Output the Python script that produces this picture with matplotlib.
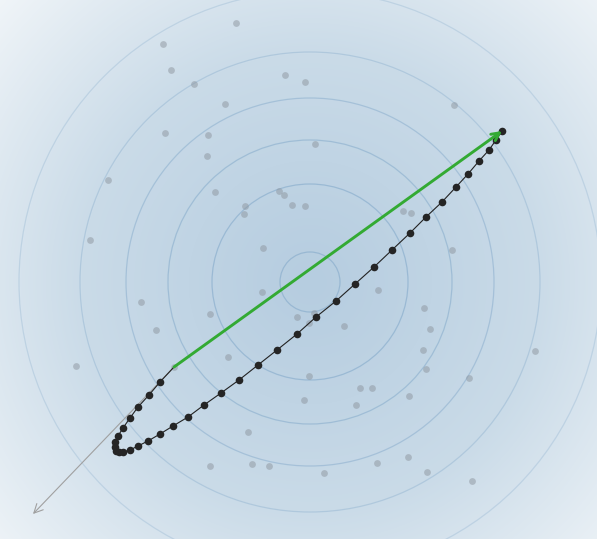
import numpy as np
import matplotlib
matplotlib.use("Agg")
import matplotlib.pyplot as plt
from matplotlib.patches import Circle
from matplotlib.colors import LinearSegmentedColormap

# ---- data (pixel-like units, y grows downward) ----
center = (310, 282)
contour_radii = [30, 98, 142, 184, 230, 291]

scatter_x = [236, 163, 285, 171, 194, 225, 165, 208, 207, 108, 215, 279, 284, 292, 245, 244,
             90, 263, 305, 454, 315, 305, 403, 411, 452, 262, 141, 210, 297, 156, 228, 76,
             174, 248, 210, 252, 269, 378, 424, 430, 344, 314, 309, 423, 426, 535, 469, 309,
             360, 372, 409, 304, 356, 408, 377, 324, 427, 472]
scatter_y = [23, 44, 75, 70, 84, 104, 133, 135, 156, 180, 192, 191, 195, 205, 206, 214,
             240, 248, 82, 105, 144, 206, 211, 213, 250, 292, 302, 314, 317, 330, 357, 366,
             367, 432, 466, 464, 466, 290, 308, 329, 326, 313, 323, 350, 369, 351, 378, 376,
             388, 388, 396, 400, 405, 457, 463, 473, 472, 481]

path_x = [174, 160, 149, 138, 130, 123, 118, 115, 115, 116, 119, 123, 130, 138, 148, 160,
          173, 188, 204, 221, 239, 258, 277, 297, 316, 336, 355, 374, 392, 410, 426, 442,
          456, 468, 479, 489, 496, 502]
path_y = [367, 382, 395, 407, 418, 428, 436, 442, 447, 451, 452, 452, 450, 446, 441, 434,
          426, 417, 405, 393, 380, 365, 350, 334, 317, 301, 284, 267, 250, 233, 217, 202,
          187, 174, 161, 150, 140, 131]

grad_arrow_end = (33, 514)

W, H = 597, 539
fig = plt.figure(figsize=(W / 100, H / 100), dpi=100)
ax = fig.add_axes([0, 0, 1, 1])
ax.set_xlim(0, W)
ax.set_ylim(H, 0)
ax.set_aspect("equal")
ax.axis("off")

# radial gradient background
yy, xx = np.mgrid[0:H, 0:W]
rr = np.sqrt((xx - center[0]) ** 2 + (yy - center[1]) ** 2)
t = np.clip(rr / 430.0, 0, 1) ** 1.1
cmap = LinearSegmentedColormap.from_list("bg", ["#b6cde0", "#cadbe8", "#f2f6f9"], N=256)
ax.imshow(t, cmap=cmap, vmin=0, vmax=1, extent=[0, W, H, 0], origin="upper",
          interpolation="bilinear", zorder=0)

alphas = [0.55, 0.55, 0.5, 0.45, 0.35, 0.28]
for r, a in zip(contour_radii, alphas):
    ax.add_patch(Circle(center, r, fill=False, edgecolor="#7fa6c8", lw=0.9, alpha=a, zorder=1))

ax.scatter(scatter_x, scatter_y, s=24, color="#8d959e", alpha=0.5, linewidths=0, zorder=2)

# gradient (grey) arrow
ax.annotate("", xy=grad_arrow_end, xytext=(path_x[0], path_y[0]),
            arrowprops=dict(arrowstyle="->", color="#a0a0a0", lw=0.8,
                            mutation_scale=16, shrinkA=0, shrinkB=0), zorder=3)

# trajectory
ax.plot(path_x, path_y, color="#222222", lw=0.8, zorder=4)
ax.scatter(path_x[1:], path_y[1:], s=30, color="#252525", linewidths=0, zorder=5)

# displacement (green) arrow
ax.annotate("", xy=(path_x[-1], path_y[-1]), xytext=(path_x[0], path_y[0]),
            arrowprops=dict(arrowstyle="->", color="#33aa33", lw=2.1,
                            mutation_scale=14, shrinkA=0, shrinkB=0), zorder=6)

fig.savefig("out.png", dpi=100)
